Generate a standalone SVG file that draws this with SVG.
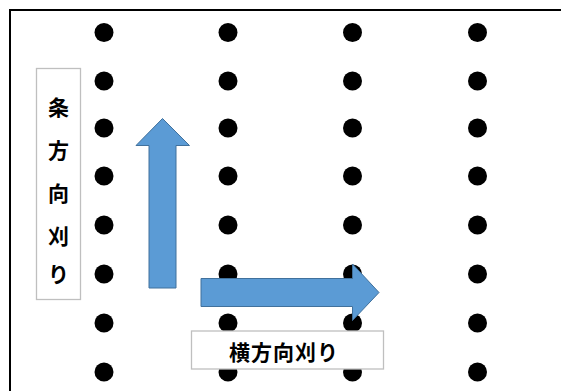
<svg xmlns="http://www.w3.org/2000/svg" width="561" height="391" viewBox="0 0 561 391">
  <style>
    .dot { fill: #000000; }
    .arrow { fill: #5B9BD5; stroke: #41719C; stroke-width: 1; }
    .lbl { fill: #FFFFFF; stroke: #BFBFBF; stroke-width: 1.3; }
    .t { font-family: "Noto Sans CJK JP", "Noto Sans CJK SC", sans-serif; font-weight: bold; font-size: 21px; fill: #000000; text-anchor: middle; dominant-baseline: central; }
  </style>
  <rect width="561" height="391" fill="#FFFFFF"/>
  <g id="frame">
    <path d="M10 391 V10 H561" fill="none" stroke="#000000" stroke-width="2"/>
  </g>
  <g id="dots">
    <g id="col1">
      <circle class="dot" cx="104" cy="32.5" r="9.5"/>
      <circle class="dot" cx="104" cy="81" r="9.5"/>
      <circle class="dot" cx="104" cy="128" r="9.5"/>
      <circle class="dot" cx="104" cy="176" r="9.5"/>
      <circle class="dot" cx="104" cy="225" r="9.5"/>
      <circle class="dot" cx="104" cy="274" r="9.5"/>
      <circle class="dot" cx="104" cy="323" r="9.5"/>
      <circle class="dot" cx="104" cy="372" r="9.5"/>
    </g>
    <g id="col2">
      <circle class="dot" cx="228" cy="32.5" r="9.5"/>
      <circle class="dot" cx="228" cy="81" r="9.5"/>
      <circle class="dot" cx="228" cy="128" r="9.5"/>
      <circle class="dot" cx="228" cy="176" r="9.5"/>
      <circle class="dot" cx="228" cy="225" r="9.5"/>
      <circle class="dot" cx="228" cy="274" r="9.5"/>
      <circle class="dot" cx="228" cy="323" r="9.5"/>
      <circle class="dot" cx="228" cy="372" r="9.5"/>
    </g>
    <g id="col3">
      <circle class="dot" cx="352.5" cy="32.5" r="9.5"/>
      <circle class="dot" cx="352.5" cy="81" r="9.5"/>
      <circle class="dot" cx="352.5" cy="128" r="9.5"/>
      <circle class="dot" cx="352.5" cy="176" r="9.5"/>
      <circle class="dot" cx="352.5" cy="225" r="9.5"/>
      <circle class="dot" cx="352.5" cy="274" r="9.5"/>
      <circle class="dot" cx="352.5" cy="323" r="9.5"/>
      <circle class="dot" cx="352.5" cy="372" r="9.5"/>
    </g>
    <g id="col4">
      <circle class="dot" cx="477.5" cy="32.5" r="9.5"/>
      <circle class="dot" cx="477.5" cy="81" r="9.5"/>
      <circle class="dot" cx="477.5" cy="128" r="9.5"/>
      <circle class="dot" cx="477.5" cy="176" r="9.5"/>
      <circle class="dot" cx="477.5" cy="225" r="9.5"/>
      <circle class="dot" cx="477.5" cy="274" r="9.5"/>
      <circle class="dot" cx="477.5" cy="323" r="9.5"/>
      <circle class="dot" cx="477.5" cy="372" r="9.5"/>
    </g>
  </g>
  <g id="connectors">
    <path id="arrow-up" class="arrow" d="M149 288 V145.5 H136 L162.5 118.5 L189.5 145.5 H176 V288 Z"/>
    <path id="arrow-right" class="arrow" d="M201 278.5 H352.5 V264 L379 292.5 L352.5 320.5 V306.5 H201 Z"/>
  </g>
  <g id="label-vertical">
    <rect class="lbl" x="36.5" y="68.5" width="44" height="231"/>
    <text class="t" x="58.5" y="106">条</text>
    <text class="t" x="58.5" y="149">方</text>
    <text class="t" x="58.5" y="192">向</text>
    <text class="t" x="58.5" y="234.5">刈</text>
    <text class="t" x="58.5" y="273">り</text>
  </g>
  <g id="label-horizontal">
    <rect class="lbl" x="191.5" y="331" width="192" height="38"/>
    <text class="t" x="284" y="351" letter-spacing="1">横方向刈り</text>
  </g>
</svg>
